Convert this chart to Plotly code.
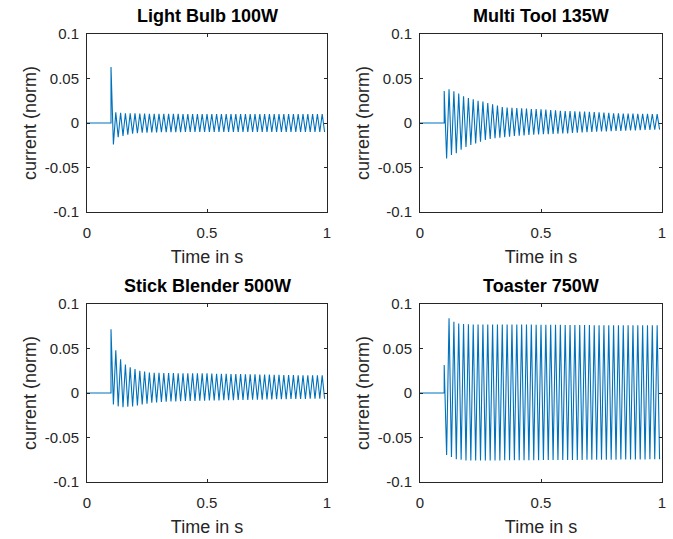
import plotly.graph_objects as go

# ---- data ----
titles = ["Light Bulb 100W", "Multi Tool 135W", "Stick Blender 500W", "Toaster 750W"]
x_ticks = [0, 0.5, 1]
x_tick_labels = ["0", "0.5", "1"]
y_ticks = [-0.1, -0.05, 0, 0.05, 0.1]
y_tick_labels = ["-0.1", "-0.05", "0", "0.05", "0.1"]

onset_time = 0.1        # s, device switched on
half_period = 0.01      # s, 50 Hz mains

# per-cycle positive / negative peak values (45 cycles from 0.1 s to 1 s)
bulb_max = [0.063, 0.012, 0.0115, 0.011, 0.011, 0.0108, 0.0106, 0.0105, 0.0104, 0.0104,
            0.0103, 0.0103, 0.0102, 0.0102, 0.0102, 0.0101, 0.0101, 0.0101, 0.0101, 0.0101,
            0.0101, 0.0101, 0.0101, 0.0101, 0.0101, 0.0101, 0.0101, 0.0101, 0.0101, 0.0101,
            0.0101, 0.0101, 0.0101, 0.0101, 0.0101, 0.0101, 0.0101, 0.0101, 0.0101, 0.0101,
            0.0101, 0.0101, 0.0101, 0.0101, 0.0101]
bulb_min = [-0.024, -0.016, -0.0145, -0.013, -0.012, -0.0115, -0.011, -0.011, -0.0105, -0.0105,
            -0.0104, -0.0103, -0.0102, -0.0102, -0.0102, -0.0101, -0.0101, -0.0101, -0.0101, -0.0101,
            -0.0101, -0.0101, -0.0101, -0.0101, -0.0101, -0.0101, -0.0101, -0.0101, -0.0101, -0.0101,
            -0.0101, -0.0101, -0.0101, -0.0101, -0.0101, -0.0101, -0.0101, -0.0101, -0.0101, -0.0101,
            -0.0101, -0.0101, -0.0101, -0.0101, -0.0101]

tool_max = [0.036, 0.038, 0.0356, 0.033, 0.030, 0.028, 0.0266, 0.025, 0.024, 0.0225,
            0.021, 0.0195, 0.018, 0.0175, 0.017, 0.0167, 0.0164, 0.0161, 0.0158, 0.0156,
            0.0154, 0.015, 0.0146, 0.0142, 0.0138, 0.0135, 0.0133, 0.0131, 0.0129, 0.0128,
            0.0127, 0.0124, 0.0121, 0.0118, 0.0114, 0.011, 0.0108, 0.0107, 0.0106, 0.0105,
            0.0104, 0.0103, 0.0102, 0.0101, 0.010]
tool_min = [-0.040, -0.036, -0.034, -0.030, -0.027, -0.0247, -0.023, -0.021, -0.019, -0.018,
            -0.017, -0.0165, -0.016, -0.0153, -0.0146, -0.0142, -0.0139, -0.0135, -0.0132, -0.013,
            -0.0127, -0.0125, -0.0123, -0.0121, -0.0118, -0.0116, -0.0113, -0.011, -0.0107, -0.0104,
            -0.010, -0.0098, -0.0096, -0.0094, -0.0092, -0.009, -0.0088, -0.0086, -0.0084, -0.0082,
            -0.008, -0.0079, -0.0078, -0.0076, -0.0075]

blender_max = [0.0715, 0.048, 0.038, 0.032, 0.029, 0.027, 0.025, 0.024, 0.023, 0.0228,
               0.0226, 0.0225, 0.0224, 0.0223, 0.0222, 0.0222, 0.0221, 0.0221, 0.022, 0.022,
               0.022, 0.0218, 0.0217, 0.0216, 0.0215, 0.0214, 0.0213, 0.0212, 0.0211, 0.021,
               0.0209, 0.0208, 0.0207, 0.0206, 0.0205, 0.0204, 0.0203, 0.0202, 0.0201, 0.020,
               0.020, 0.0199, 0.0199, 0.0198, 0.0198]
blender_min = [-0.013, -0.015, -0.016, -0.0155, -0.015, -0.014, -0.013, -0.012, -0.011, -0.0105,
               -0.010, -0.0098, -0.0096, -0.0094, -0.0092, -0.009, -0.0089, -0.0088, -0.0087, -0.0086,
               -0.0085, -0.0084, -0.0083, -0.0082, -0.0081, -0.008, -0.0079, -0.0078, -0.0077, -0.0076,
               -0.0075, -0.0074, -0.0073, -0.0072, -0.0071, -0.007, -0.0069, -0.0068, -0.0067, -0.0066,
               -0.0066, -0.0065, -0.0065, -0.0064, -0.0064]

toaster_max = [0.0315, 0.084, 0.080, 0.078, 0.0775, 0.0772, 0.077, 0.077, 0.077, 0.077,
               0.077, 0.077, 0.077, 0.077, 0.077, 0.077, 0.077, 0.0769, 0.0769, 0.0768,
               0.0768, 0.0767, 0.0767, 0.0766, 0.0766, 0.0765, 0.0765, 0.0764, 0.0764, 0.0763,
               0.0763, 0.0762, 0.0762, 0.0762, 0.0761, 0.0761, 0.0761, 0.076, 0.076, 0.076,
               0.076, 0.076, 0.076, 0.076, 0.076]
toaster_min = [-0.0697, -0.072, -0.0745, -0.075, -0.0757, -0.0758, -0.0758, -0.0758, -0.0758, -0.0757,
               -0.0757, -0.0757, -0.0756, -0.0756, -0.0756, -0.0756, -0.0755, -0.0755, -0.0755, -0.0755,
               -0.0754, -0.0754, -0.0754, -0.0753, -0.0753, -0.0753, -0.0752, -0.0752, -0.0752, -0.0751,
               -0.0751, -0.075, -0.075, -0.075, -0.0749, -0.0749, -0.0748, -0.0748, -0.0747, -0.0747,
               -0.0746, -0.0746, -0.0745, -0.0745, -0.0745]

peaks_max = [bulb_max, tool_max, blender_max, toaster_max]
peaks_min = [bulb_min, tool_min, blender_min, toaster_min]

# ---- figure ----
W, H = 673, 539
color = "#0072BD"
axis_col = "#262626"
font_family = "Liberation Sans, Arial, Helvetica, sans-serif"

# plot areas in pixels (left, right, top, bottom)
boxes = [(87, 327, 34, 212), (420, 662, 34, 212), (87, 327, 304, 482), (420, 662, 304, 482)]

fig = go.Figure()
layout = dict(
    width=W, height=H, margin=dict(l=0, r=0, t=0, b=0, autoexpand=False),
    paper_bgcolor="white", plot_bgcolor="white", showlegend=False,
    font=dict(family=font_family, color=axis_col),
)
annotations = []

for i in range(4):
    xs = [0.0, onset_time]
    ys = [0.0, 0.0]
    for k in range(len(peaks_max[i])):
        xs.append(onset_time + 2 * k * half_period)
        ys.append(peaks_max[i][k])
        xs.append(onset_time + (2 * k + 1) * half_period)
        ys.append(peaks_min[i][k])
    sfx = "" if i == 0 else str(i + 1)
    fig.add_trace(go.Scatter(x=xs, y=ys, mode="lines",
                             line=dict(color=color, width=1.1),
                             xaxis="x" + sfx, yaxis="y" + sfx, hoverinfo="skip"))
    l, r, t, b = boxes[i]
    common = dict(showgrid=False, zeroline=False, showline=True, linecolor=axis_col,
                  linewidth=1, mirror="ticks", ticks="inside", ticklen=3, automargin=False,
                  tickcolor=axis_col, tickfont=dict(size=15, color=axis_col, family=font_family))
    layout["xaxis" + sfx] = dict(common, domain=[l / W, r / W], range=[0, 1],
                                 tickvals=x_ticks, ticktext=x_tick_labels,
                                 anchor="y" + sfx, ticklabelstandoff=7,
                                 title=dict(text="Time in s", font=dict(size=18, family=font_family, color=axis_col), standoff=10))
    layout["yaxis" + sfx] = dict(common, domain=[1 - b / H, 1 - t / H], range=[-0.1, 0.1],
                                 tickvals=y_ticks, ticktext=y_tick_labels,
                                 anchor="x" + sfx, ticklabelstandoff=4,
                                 title=dict(text="current (norm)", font=dict(size=18, family=font_family, color=axis_col), standoff=3))
    annotations.append(dict(text="<b>" + titles[i] + "</b>", xref="paper", yref="paper",
                            x=(l + r) / 2 / W, y=1 - (t - 6) / H, xanchor="center", yanchor="bottom",
                            showarrow=False, font=dict(size=18, family=font_family, color="black")))

layout["annotations"] = annotations
fig.update_layout(**layout)
fig.write_html("out.html", config={"displayModeBar": False},
               post_script="document.body.style.margin='0';document.body.style.overflow='hidden';")
